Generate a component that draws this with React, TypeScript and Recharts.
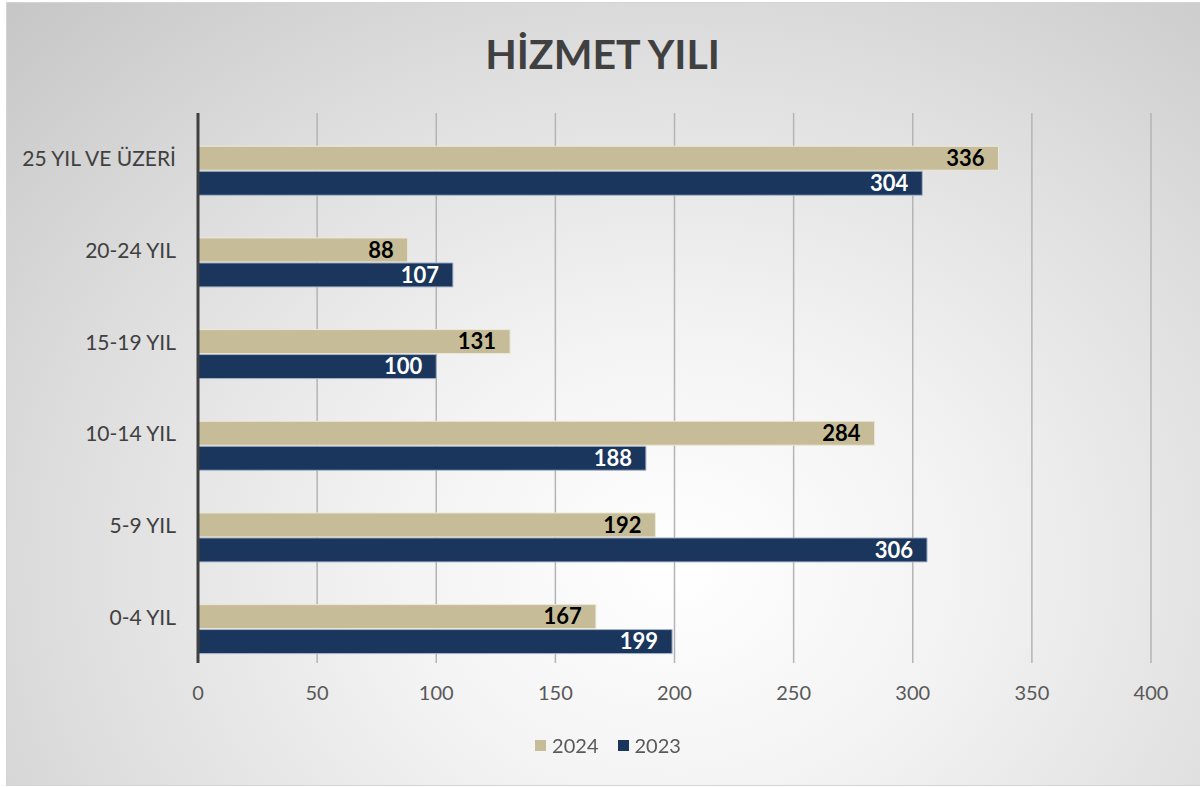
import {
  Bar,
  BarChart,
  CartesianGrid,
  LabelList,
  XAxis,
  YAxis,
} from "recharts";

const kategoriler = ["25 YIL VE ÜZERİ", "20-24 YIL", "15-19 YIL", "10-14 YIL", "5-9 YIL", "0-4 YIL"];
const yil2024 = [336, 88, 131, 284, 192, 167];
const yil2023 = [304, 107, 100, 188, 306, 199];
// Excel'deki boş üçüncü seri: bant içinde ilk yuvayı kaplıyor
const bos = [0, 0, 0, 0, 0, 0];
const xTicks = [0, 50, 100, 150, 200, 250, 300, 350, 400];

const data = kategoriler.map((k, i) => ({
  kategori: k,
  bos: bos[i],
  y2024: yil2024[i],
  y2023: yil2023[i],
}));

const FONT = "Lato, 'Open Sans', sans-serif";
const TAN = "#c6bd98";
const NAVY = "#1a365d";

const seriler = [
  { ad: "2024", renk: TAN },
  { ad: "2023", renk: NAVY },
];

export default function App() {
  return (
    <div style={{ position: "fixed", left: 0, top: 0, width: 1200, height: 787, background: "#fff", fontFamily: FONT }}>
      <div
        style={{
          position: "absolute",
          left: 6,
          top: 2,
          width: 1193,
          height: 782,
          border: "1px solid #d4d4d4",
          background:
            "radial-gradient(ellipse farthest-corner at 56% 72%, #ffffff 0%, #f3f3f3 30%, #dedede 65%, #c6c6c6 100%)",
        }}
      />
      <div
        style={{
          position: "absolute",
          left: 0,
          top: 29,
          width: 1205,
          textAlign: "center",
          fontSize: 41,
          fontWeight: 700,
          color: "#404040",
        }}
      >
        HİZMET YILI
      </div>
      <div style={{ position: "absolute", left: 0, top: 0 }}>
        <BarChart
          width={1200}
          height={787}
          data={data}
          layout="vertical"
          margin={{ top: 113, right: 49, bottom: 94, left: 0 }}
          barCategoryGap="9%"
          barGap={1}
        >
          <CartesianGrid horizontal={false} stroke="#b4b4b4" strokeWidth={1.5} />
          <XAxis
            type="number"
            domain={[0, 400]}
            ticks={xTicks}
            height={30}
            axisLine={false}
            tickLine={false}
            tickSize={0}
            tickMargin={23}
            tick={{ fill: "#595959", fontSize: 20, fontFamily: FONT }}
          />
          <YAxis
            type="category"
            dataKey="kategori"
            width={198}
            axisLine={{ stroke: "#404040", strokeWidth: 3 }}
            tickLine={false}
            tickSize={0}
            tickMargin={22}
            tick={{ fill: "#404040", fontSize: 21, fontFamily: FONT }}
          />
          <Bar dataKey="bos" name="" legendType="none" fill="#a9d18e" isAnimationActive={false} />
          <Bar dataKey="y2024" name="2024" fill={TAN} stroke="#ece8da" strokeWidth={1} isAnimationActive={false}>
            <LabelList
              dataKey="y2024"
              position="insideRight"
              offset={14}
              style={{ fill: "#000", fontSize: 22, fontWeight: 700, fontFamily: FONT }}
            />
          </Bar>
          <Bar dataKey="y2023" name="2023" fill={NAVY} stroke="#a8b4c8" strokeWidth={1} isAnimationActive={false}>
            <LabelList
              dataKey="y2023"
              position="insideRight"
              offset={14}
              style={{ fill: "#fff", fontSize: 22, fontWeight: 700, fontFamily: FONT }}
            />
          </Bar>
        </BarChart>
      </div>
      <div
        style={{
          position: "absolute",
          left: 0,
          top: 733,
          width: 1216,
          display: "flex",
          justifyContent: "center",
          gap: 19,
          fontSize: 20,
          color: "#595959",
        }}
      >
        {seriler.map((s) => (
          <div key={s.ad} style={{ display: "flex", alignItems: "center", gap: 6 }}>
            <span style={{ display: "inline-block", width: 11, height: 11, background: s.renk }} />
            <span>{s.ad}</span>
          </div>
        ))}
      </div>
    </div>
  );
}
